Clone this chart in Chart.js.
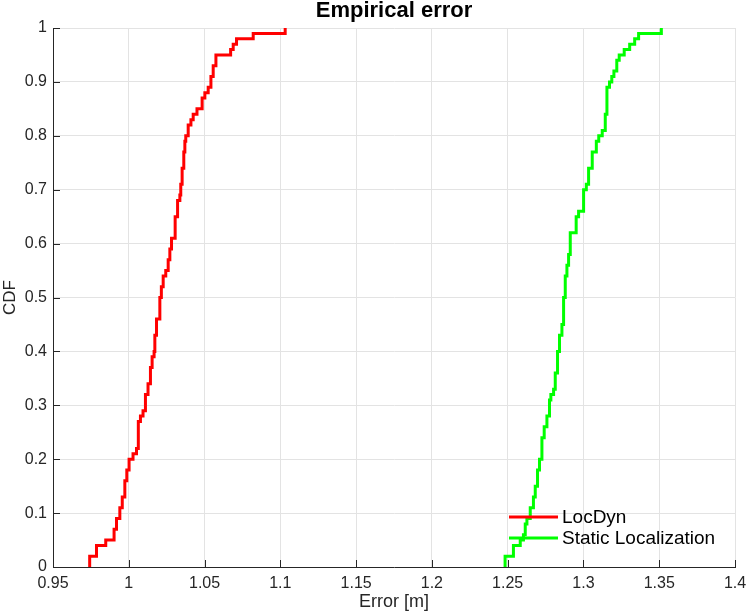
<!DOCTYPE html>
<html>
<head>
<meta charset="utf-8">
<script src="https://cdn.jsdelivr.net/npm/chart.js@4"></script>
<style>
  html, body { margin: 0; padding: 0; background: #fff; }
  #wrap { width: 747px; height: 616px; }
</style>
</head>
<body>
<div id="wrap"><canvas id="cdf"></canvas></div>
<script>
// values (ECDF jump points)
const locDynX = [0.9742, 0.9742, 0.9787, 0.9848, 0.9903, 0.9919, 0.9941, 0.9957, 0.9974, 0.9987,
  1.0002, 1.0028, 1.0051, 1.0063, 1.0077, 1.0094, 1.011, 1.0127, 1.0143, 1.0154,
  1.0167, 1.0172, 1.0183, 1.0205, 1.0215, 1.0227, 1.0244, 1.026, 1.0271, 1.0282,
  1.0306, 1.0322, 1.0337, 1.0343, 1.0352, 1.0363, 1.037, 1.0376, 1.0392, 1.041,
  1.0425, 1.045, 1.0484, 1.0502, 1.0524, 1.0542, 1.0557, 1.0575, 1.0672, 1.0689,
  1.0711, 1.0821, 1.1032];
const locDynY = [0, 0.02, 0.04, 0.05, 0.07, 0.09, 0.11, 0.13, 0.16, 0.18,
  0.20, 0.21, 0.22, 0.27, 0.28, 0.29, 0.32, 0.34, 0.37, 0.39,
  0.40, 0.43, 0.46, 0.50, 0.52, 0.54, 0.55, 0.57, 0.59, 0.61,
  0.65, 0.68, 0.69, 0.71, 0.74, 0.77, 0.79, 0.80, 0.82, 0.83,
  0.84, 0.85, 0.87, 0.88, 0.89, 0.91, 0.93, 0.95, 0.96, 0.97,
  0.98, 0.99, 1.00];

const staticX = [1.2483, 1.2483, 1.2538, 1.2583, 1.2604, 1.2616, 1.2627, 1.2649, 1.267, 1.2682,
  1.2697, 1.271, 1.2726, 1.2741, 1.2759, 1.2776, 1.2785, 1.2803, 1.2814, 1.2829,
  1.2842, 1.2858, 1.2869, 1.288, 1.2891, 1.2902, 1.2913, 1.2952, 1.2968, 1.3001,
  1.3019, 1.3034, 1.3058, 1.3085, 1.3101, 1.3124, 1.3144, 1.3155, 1.3172, 1.3187,
  1.3201, 1.322, 1.3236, 1.3269, 1.3305, 1.3338, 1.3364, 1.3514];
const staticY = [0, 0.02, 0.04, 0.05, 0.06, 0.08, 0.09, 0.11, 0.13, 0.15,
  0.18, 0.20, 0.24, 0.26, 0.28, 0.31, 0.32, 0.33, 0.36, 0.40,
  0.43, 0.45, 0.50, 0.54, 0.56, 0.58, 0.62, 0.65, 0.66, 0.70,
  0.71, 0.74, 0.77, 0.79, 0.80, 0.81, 0.84, 0.89, 0.90, 0.91,
  0.92, 0.94, 0.95, 0.96, 0.97, 0.98, 0.99, 1.00];

const xTicks = [0.95, 1, 1.05, 1.1, 1.15, 1.2, 1.25, 1.3, 1.35, 1.4];
const yTicks = [0, 0.1, 0.2, 0.3, 0.4, 0.5, 0.6, 0.7, 0.8, 0.9, 1];

const axisColor = '#262626';
const gridColor = '#e3e3e3';
const fontFamily = '"Liberation Sans", Arial, sans-serif';
const titleText = 'Empirical error';

const pts = (xs, ys) => xs.map((x, i) => ({ x: x, y: ys[i] }));
const fmt = v => String(+Number(v).toFixed(2));

// matlab style ticks pointing into the plot
const innerTicks = {
  id: 'innerTicks',
  afterDatasetsDraw(chart) {
    const { ctx, chartArea: a, scales: { x, y } } = chart;
    ctx.save();
    ctx.strokeStyle = axisColor;
    ctx.lineWidth = 1;
    ctx.beginPath();
    xTicks.forEach(v => {
      const px = Math.round(x.getPixelForValue(v)) + 0.5;
      ctx.moveTo(px, a.bottom);
      ctx.lineTo(px, a.bottom - 7);
    });
    yTicks.forEach(v => {
      const py = Math.round(y.getPixelForValue(v)) + 0.5;
      ctx.moveTo(a.left, py);
      ctx.lineTo(a.left + 7, py);
    });
    ctx.stroke();
    ctx.restore();
  }
};

// title centred over the axes, like matlab does
const axesTitle = {
  id: 'axesTitle',
  afterDraw(chart) {
    const { ctx, chartArea: a } = chart;
    ctx.save();
    ctx.font = 'bold 22px ' + fontFamily;
    ctx.fillStyle = '#000';
    ctx.textAlign = 'center';
    ctx.textBaseline = 'middle';
    ctx.fillText(titleText, (a.left + a.right) / 2, 11);
    ctx.restore();
  }
};

// legend inside the axes, bottom right, no box
const insideLegend = {
  id: 'insideLegend',
  afterDraw(chart) {
    const { ctx, chartArea: a } = chart;
    ctx.save();
    ctx.font = '19px ' + fontFamily;
    ctx.textBaseline = 'middle';
    ctx.textAlign = 'left';
    chart.data.datasets.forEach((ds, i) => {
      const yy = a.bottom - 50 + i * 21;
      const x0 = a.right - 226;
      ctx.strokeStyle = ds.borderColor;
      ctx.lineWidth = 3;
      ctx.beginPath();
      ctx.moveTo(x0, yy);
      ctx.lineTo(x0 + 49, yy);
      ctx.stroke();
      ctx.fillStyle = '#000';
      ctx.fillText(ds.label, x0 + 53, yy + 1);
    });
    ctx.restore();
  }
};

new Chart(document.getElementById('cdf'), {
  type: 'line',
  data: {
    datasets: [{
      label: 'LocDyn',
      data: pts(locDynX, locDynY),
      borderColor: '#ff0000',
      borderWidth: 3,
      stepped: 'before',
      pointRadius: 0,
      fill: false
    }, {
      label: 'Static Localization',
      data: pts(staticX, staticY),
      borderColor: '#00ff00',
      borderWidth: 3,
      stepped: 'before',
      pointRadius: 0,
      fill: false
    }]
  },
  options: {
    responsive: true,
    maintainAspectRatio: false,
    animation: false,
    layout: { padding: { top: 28, right: 12, bottom: 0, left: 0 } },
    plugins: {
      legend: { display: false },
      tooltip: { enabled: false },
      title: { display: false }
    },
    scales: {
      x: {
        type: 'linear',
        min: 0.95,
        max: 1.4,
        afterBuildTicks: s => { s.ticks = xTicks.map(v => ({ value: v })); },
        afterFit: s => { s.height = 49; s.paddingRight = 0; },
        grid: { color: gridColor, drawTicks: false },
        border: { color: axisColor },
        ticks: {
          color: axisColor,
          padding: 7,
          maxRotation: 0,
          font: { family: fontFamily, size: 16 },
          callback: v => fmt(v)
        },
        title: {
          display: true,
          text: 'Error [m]',
          color: axisColor,
          font: { family: fontFamily, size: 18 },
          padding: { top: 0, bottom: 3 }
        }
      },
      y: {
        min: 0,
        max: 1,
        afterBuildTicks: s => { s.ticks = yTicks.map(v => ({ value: v })); },
        afterFit: s => { s.width = 53; },
        grid: { color: gridColor, drawTicks: false },
        border: { color: axisColor },
        ticks: {
          color: axisColor,
          padding: 6,
          font: { family: fontFamily, size: 16 },
          callback: v => fmt(v)
        },
        title: {
          display: true,
          text: 'CDF',
          color: axisColor,
          font: { family: fontFamily, size: 17 },
          padding: { top: 0, bottom: 0 }
        }
      }
    }
  },
  plugins: [innerTicks, axesTitle, insideLegend]
});
</script>
</body>
</html>
